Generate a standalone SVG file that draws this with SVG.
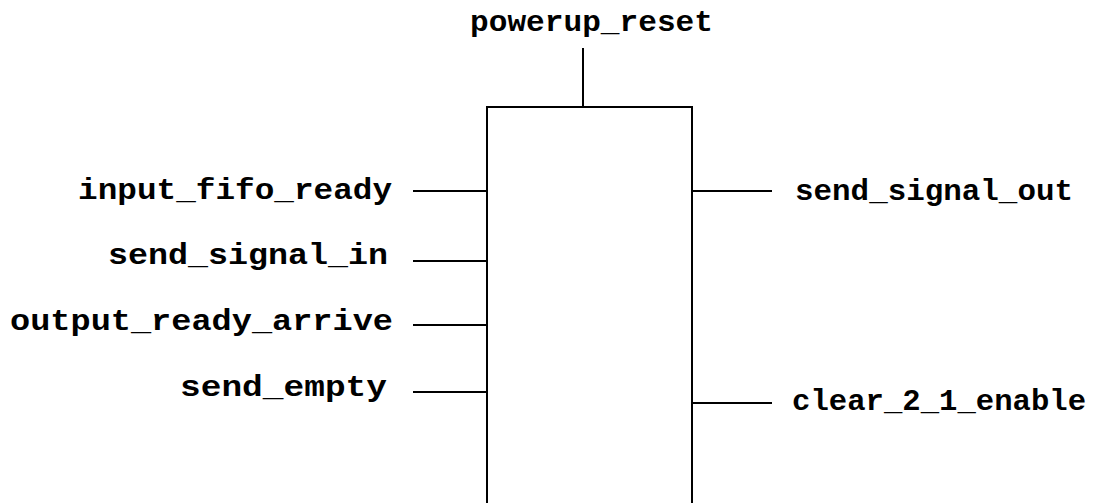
<svg xmlns="http://www.w3.org/2000/svg" width="1103" height="503" viewBox="0 0 1103 503">
<style>
.lbl{font-family:"Liberation Mono","Courier New",monospace;font-weight:bold;font-size:30px;fill:#000}
.ln{stroke:#000;stroke-width:2;fill:none}
</style>
<rect width="1103" height="503" fill="#fff"/>
<g id="block">
<path class="ln" d="M487,503 L487,107 L692,107 L692,503"/>
</g>
<g id="connectors">
<line class="ln" x1="583" y1="48" x2="583" y2="107"/>
<line class="ln" x1="413" y1="191" x2="487" y2="191"/>
<line class="ln" x1="413" y1="261" x2="487" y2="261"/>
<line class="ln" x1="413" y1="325" x2="487" y2="325"/>
<line class="ln" x1="413" y1="392" x2="487" y2="392"/>
<line class="ln" x1="692" y1="191" x2="772" y2="191"/>
<line class="ln" x1="692" y1="403" x2="772" y2="403"/>
</g>
<g id="port-powerup_reset"><text class="lbl" x="470" y="31" textLength="243" lengthAdjust="spacingAndGlyphs">powerup_reset</text></g>
<g id="port-input_fifo_ready"><text class="lbl" x="78" y="199" textLength="314" lengthAdjust="spacingAndGlyphs">input_fifo_ready</text></g>
<g id="port-send_signal_in"><text class="lbl" x="108" y="264" textLength="280" lengthAdjust="spacingAndGlyphs">send_signal_in</text></g>
<g id="port-output_ready_arrive"><text class="lbl" x="10" y="330" textLength="383" lengthAdjust="spacingAndGlyphs">output_ready_arrive</text></g>
<g id="port-send_empty"><text class="lbl" x="180" y="396" textLength="207" lengthAdjust="spacingAndGlyphs">send_empty</text></g>
<g id="port-send_signal_out"><text class="lbl" x="795" y="200" textLength="278" lengthAdjust="spacingAndGlyphs">send_signal_out</text></g>
<g id="port-clear_2_1_enable"><text class="lbl" x="792" y="410" textLength="294" lengthAdjust="spacingAndGlyphs">clear_2_1_enable</text></g>
</svg>
